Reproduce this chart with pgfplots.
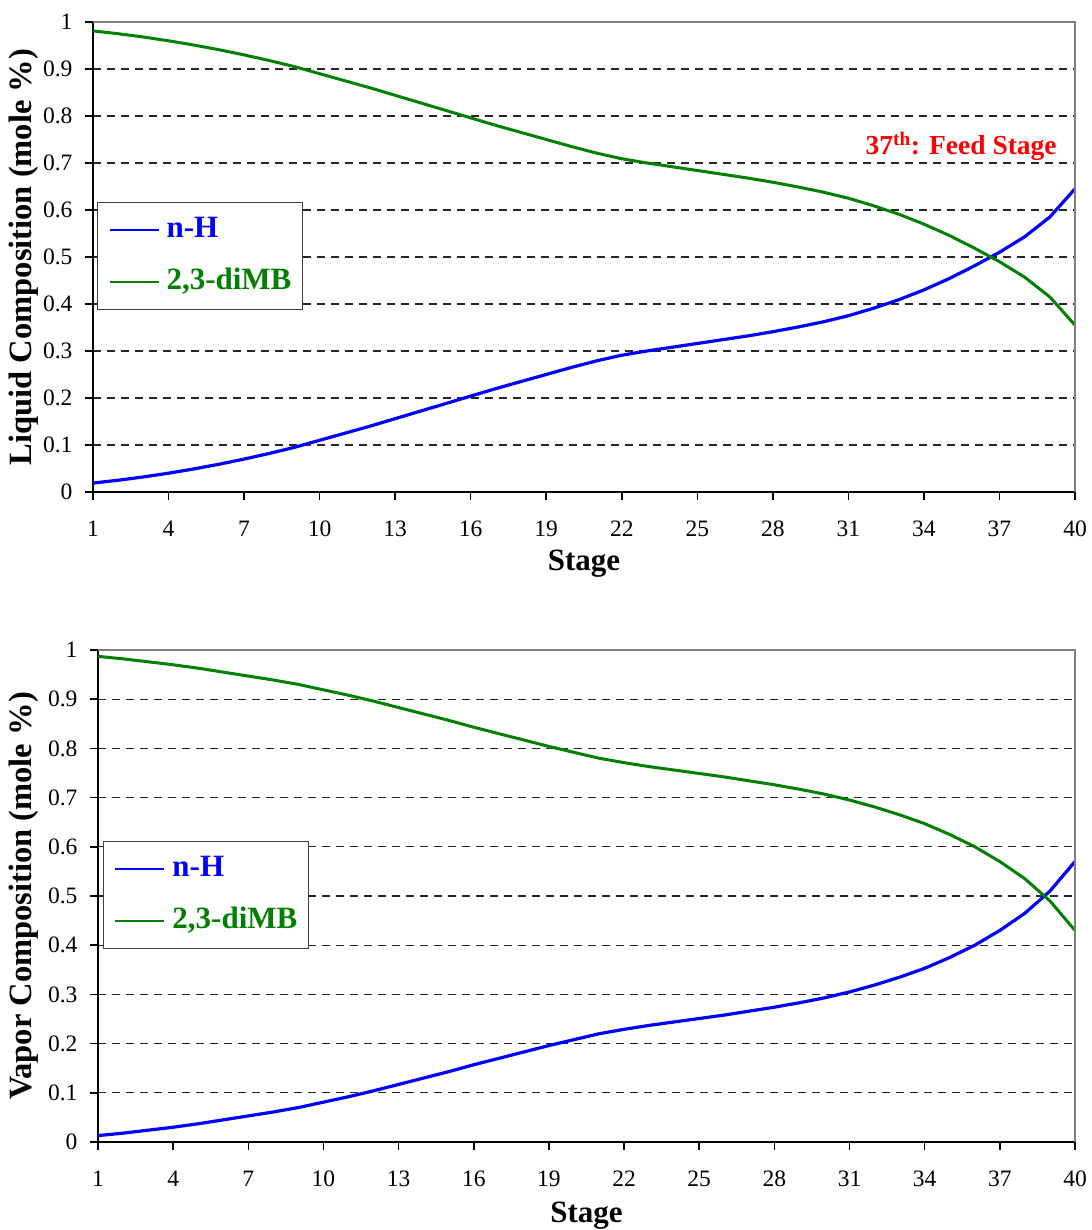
\documentclass[border=0pt]{standalone}
\usepackage{fontspec}
\setmainfont{Liberation Serif}
\usepackage{pgfplots}
\pgfplotsset{compat=1.18}
\definecolor{dgreen}{RGB}{0,128,0}
\definecolor{frameg}{RGB}{128,128,128}

\pgfplotsset{
  compstyle/.style={
    scale only axis,
    clip=false,
    xmin=1, xmax=40, ymin=0, ymax=1,
    xtick={1,4,7,10,13,16,19,22,25,28,31,34,37,40},
    xticklabels={1,4,7,10,13,16,19,22,25,28,31,34,37,40},
    ytick={0,0.1,0.2,0.3,0.4,0.5,0.6,0.7,0.8,0.9,1},
    yticklabels={0,0.1,0.2,0.3,0.4,0.5,0.6,0.7,0.8,0.9,1},
    /pgf/number format/assume math mode=true,
    axis x line*=bottom,
    axis y line*=left,
    axis line style={line width=2pt, black},
    tick align=outside,
    major tick length=8pt,
    tick style={line width=1.5pt, black},
    ymajorgrids,
    major grid style={dash pattern=on 8pt off 6pt, line width=1.2pt, black!85},
    ticklabel style={font=\fontsize{23.5}{28}\selectfont},
    xticklabel style={anchor=center, yshift=-29pt},
    yticklabel style={anchor=east, xshift=-9pt},
    legend cell align=left,
    legend image code/.code={\draw[#1, line width=2pt] (0pt,0pt) -- (49pt,0pt);},
    legend style={anchor=north west, draw=black!75, line width=1.2pt, fill=white,
      font=\fontsize{31}{37}\selectfont\bfseries,
      inner xsep=11pt, inner ysep=14pt, row sep=25pt,
      nodes={inner sep=0pt, text height=21pt, text depth=6pt},
      /tikz/every odd column/.append style={column sep=7pt}},
  }
}

\begin{document}
\begin{tikzpicture}
\useasboundingbox (0pt,0pt) rectangle (1091pt,1230pt);

% ---------------- Top: liquid ----------------
\begin{axis}[compstyle,
  at={(93pt,738pt)}, anchor=south west,
  width=982pt, height=470pt,
  every axis y label/.style={at={(axis description cs:-0.0703,0.5)}, rotate=90, anchor=center, font=\fontsize{32.5}{38}\selectfont\bfseries},
  every axis x label/.style={at={(axis description cs:0.5,-0.153)}, anchor=center, font=\fontsize{31}{36}\selectfont\bfseries},
  ylabel={Liquid Composition (mole \%)},
  xlabel={Stage},
  legend style={at={(rel axis cs:0.004,0.617)}},
]
\addplot[blue, line width=3.2pt] coordinates {
(1,0.019)(2,0.025)(3,0.032)(4,0.040)(5,0.049)(6,0.059)(7,0.070)(8,0.082)(9,0.095)(10,0.110)
(11,0.125)(12,0.140)(13,0.156)(14,0.172)(15,0.188)(16,0.204)(17,0.220)(18,0.235)(19,0.250)(20,0.265)
(21,0.279)(22,0.291)(23,0.300)(24,0.308)(25,0.316)(26,0.324)(27,0.332)(28,0.341)(29,0.351)(30,0.362)
(31,0.375)(32,0.391)(33,0.409)(34,0.430)(35,0.454)(36,0.481)(37,0.510)(38,0.543)(39,0.585)(40,0.645)
};
\addlegendentry{\textcolor{blue}{n-H}}
\addplot[dgreen, line width=3pt] coordinates {
(1,0.981)(2,0.975)(3,0.968)(4,0.960)(5,0.951)(6,0.941)(7,0.930)(8,0.918)(9,0.905)(10,0.890)
(11,0.875)(12,0.860)(13,0.844)(14,0.828)(15,0.812)(16,0.796)(17,0.780)(18,0.765)(19,0.750)(20,0.735)
(21,0.721)(22,0.709)(23,0.700)(24,0.692)(25,0.684)(26,0.676)(27,0.668)(28,0.659)(29,0.649)(30,0.638)
(31,0.625)(32,0.609)(33,0.591)(34,0.570)(35,0.546)(36,0.519)(37,0.490)(38,0.457)(39,0.415)(40,0.355)
};
\addlegendentry{\textcolor{dgreen}{2,3-diMB}}
\draw[frameg, line width=2.5pt] (rel axis cs:0,1) -- (rel axis cs:1,1) -- (rel axis cs:1,0);
\node[anchor=base east, text=red, inner sep=0pt, font=\fontsize{27.5}{33}\selectfont\bfseries] at (axis cs:39.28,0.717) {37\textsuperscript{th}: Feed Stage};
\end{axis}

% ---------------- Bottom: vapor ----------------
\begin{axis}[compstyle,
  at={(98pt,88pt)}, anchor=south west,
  width=977pt, height=492pt,
  every axis y label/.style={at={(axis description cs:-0.0757,0.5)}, rotate=90, anchor=center, font=\fontsize{32.5}{38}\selectfont\bfseries},
  every axis x label/.style={at={(axis description cs:0.5,-0.150)}, anchor=center, font=\fontsize{31}{36}\selectfont\bfseries},
  ylabel={Vapor Composition (mole \%)},
  xlabel={Stage},
  legend style={at={(rel axis cs:0.005,0.612)}},
]
\addplot[blue, line width=3.2pt] coordinates {
(1,0.013)(2,0.018)(3,0.024)(4,0.030)(5,0.037)(6,0.045)(7,0.053)(8,0.061)(9,0.070)(10,0.081)
(11,0.092)(12,0.104)(13,0.117)(14,0.130)(15,0.143)(16,0.157)(17,0.170)(18,0.183)(19,0.196)(20,0.208)
(21,0.220)(22,0.229)(23,0.237)(24,0.244)(25,0.251)(26,0.258)(27,0.266)(28,0.274)(29,0.283)(30,0.293)
(31,0.305)(32,0.319)(33,0.335)(34,0.353)(35,0.375)(36,0.400)(37,0.430)(38,0.465)(39,0.510)(40,0.570)
};
\addlegendentry{\textcolor{blue}{n-H}}
\addplot[dgreen, line width=3pt] coordinates {
(1,0.987)(2,0.982)(3,0.976)(4,0.970)(5,0.963)(6,0.955)(7,0.947)(8,0.939)(9,0.930)(10,0.919)
(11,0.908)(12,0.896)(13,0.883)(14,0.870)(15,0.857)(16,0.843)(17,0.830)(18,0.817)(19,0.804)(20,0.792)
(21,0.780)(22,0.771)(23,0.763)(24,0.756)(25,0.749)(26,0.742)(27,0.734)(28,0.726)(29,0.717)(30,0.707)
(31,0.695)(32,0.681)(33,0.665)(34,0.647)(35,0.625)(36,0.600)(37,0.570)(38,0.535)(39,0.490)(40,0.430)
};
\addlegendentry{\textcolor{dgreen}{2,3-diMB}}
\draw[frameg, line width=2.5pt] (rel axis cs:0,1) -- (rel axis cs:1,1) -- (rel axis cs:1,0);
\end{axis}
\end{tikzpicture}
\end{document}
